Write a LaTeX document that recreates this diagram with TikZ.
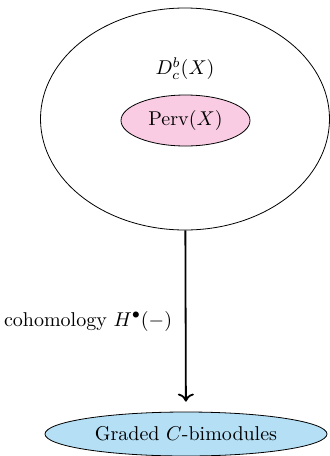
\documentclass[tikz,border=0pt]{standalone}
\usetikzlibrary{shapes.geometric,arrows.meta}
\definecolor{pinkfill}{RGB}{250,204,228}
\definecolor{bluefill}{RGB}{180,223,245}
\begin{document}
\begin{tikzpicture}[x=0.5pt,y=-0.5pt,
  region/.style={ellipse,draw,inner sep=0pt,line width=0.4pt},
  conn/.style={line width=0.9pt,-{To[length=4pt,width=8pt]}}]
\useasboundingbox (0,0) rectangle (330,456);
\node[region,minimum width=144.5pt,minimum height=111pt] (outer) at (185,119) {};
\node (dlabel) at (185,69) {$D^b_c(X)$};
\node[region,fill=pinkfill,minimum width=64.5pt,minimum height=25.5pt] (perv) at (185.5,120.5) {$\mathrm{Perv}(X)$};
\node[region,fill=bluefill,minimum width=141pt,minimum height=22pt] (graded) at (186,434) {Graded $C$-bimodules};
\draw[conn,shorten >=5pt] (outer) -- node[left=3pt] {cohomology $H^\bullet(-)$} (graded);
\end{tikzpicture}
\end{document}
